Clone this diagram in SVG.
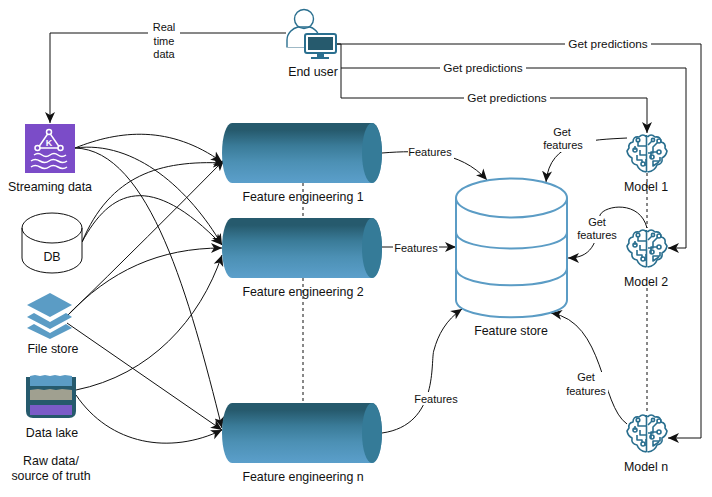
<svg xmlns="http://www.w3.org/2000/svg" xmlns:xlink="http://www.w3.org/1999/xlink" width="712" height="497" viewBox="0 0 712 497">
<style>
text{font-family:"Liberation Sans",Arial,sans-serif;font-size:12.4px;fill:#111;text-anchor:middle}
.s{font-size:11px}
.g{font-size:11.8px}
.c{fill:none;stroke:#111;stroke-width:1}
.a{marker-end:url(#ah)}
.d{fill:none;stroke:#111;stroke-width:1;stroke-dasharray:3 3}
.lb{fill:#fff;stroke:none}
.st{fill:none;stroke:#5b9cc5;stroke-width:2}
.br{fill:none;stroke:#2a6f8f;stroke-width:1.600;stroke-linejoin:round}
</style>
<defs>
<marker id="ah" markerUnits="userSpaceOnUse" markerWidth="14" markerHeight="12" refX="11" refY="5" orient="auto" viewBox="0 0 14 10"><path d="M0 0L11 5L0 10L3 5Z" fill="#111"/></marker>
<linearGradient id="cg" x1="0" y1="0" x2="0" y2="1"><stop offset="0.12" stop-color="#265a6d"/><stop offset="0.38" stop-color="#3a7b98"/><stop offset="0.65" stop-color="#4c90b4"/><stop offset="1" stop-color="#5b9fcb"/></linearGradient>
<symbol id="cyl" viewBox="0 0 160 60" width="160" height="60">
<path d="M10 0H150A10 30 0 0 1 150 60H10A10 30 0 0 1 10 0Z" fill="url(#cg)"/>
<ellipse cx="150" cy="30" rx="10" ry="30" fill="#357b98"/>
</symbol>
<symbol id="brain" viewBox="0 0 40 40" width="40" height="40" overflow="visible">
<g class="br">
<path d="M19.500 2L19.500 39M19.500 4Q16 0 12 4Q6 3 6 9Q1 10 2 15L0 18Q1 23 5 25Q4 31 10 32Q12 38 19.500 39M20.500 4Q24 0 28 4Q34 3 34 9Q39 10 38 15L40 18Q39 23 35 25Q36 31 30 32Q28 38 20.500 39"/>
<path d="M19 13H11V8M8 17V13M19 22H13V17M15 30L15 27H10V22M19 33V26M21 20H26V14L31 9M21 12L25 8M30 19H24V26M32 29L26 33V28H33V24"/>
<circle cx="11" cy="7" r="1.800"/><circle cx="8" cy="17" r="2"/><circle cx="16" cy="31" r="2"/><circle cx="32" cy="8" r="2"/><circle cx="26" cy="7" r="1.600"/><circle cx="25" cy="24" r="2"/><circle cx="32" cy="19" r="2"/>
</g>
</symbol>
</defs>
<rect width="712" height="497" fill="#fff"/>

<g id="connectors">
<path class="c a" d="M286 33H50V123"/>
<path class="c a" d="M336 44H701V438H668"/>
<path class="c a" d="M336 44H341V68H686V248H668"/>
<path class="c a" d="M341 68V98H647V133"/>
<path class="d" d="M303 183V218M303 278V403M647 173V228M647 288V413"/>

<path class="c a" d="M75 148C120 130 170 125 222 162"/>
<path class="c a" d="M75 148C135 140 190 190 222 245"/>
<path class="c a" d="M75 148C150 150 190 300 222 428"/>
<path class="c a" d="M82 242C110 175 160 160 224 163"/>
<path class="c a" d="M82 242C110 190 150 170 222 245"/>
<path class="c a" d="M66 317Q150 235 224 160"/>
<path class="c a" d="M66 317C110 270 160 248 222 248"/>
<path class="c a" d="M67 323L222 430"/>
<path class="c a" d="M76 390C150 375 200 320 222 255"/>
<path class="c a" d="M76 395C110 445 170 455 222 430"/>

<path class="c a" d="M382 153C420 150 460 150 487 180"/>
<path class="c a" d="M382 247H456"/>
<path class="c a" d="M382 433C440 425 430 360 434 350C438 335 446 320 462 309"/>
<path class="c a" d="M627 138C590 140 550 140 546 182"/>
<path class="c a" d="M647 228C640 200 605 205 600 215C598 245 590 258 568 258"/>
<path class="c a" d="M627 424C600 405 605 322 551 313"/>
</g>

<g id="connector-labels">
<rect class="lb" x="148" y="20" width="32" height="42"/>
<text class="s" x="164" y="31">Real</text><text class="s" x="164" y="45">time</text><text class="s" x="164" y="58">data</text>
<rect class="lb" x="565" y="38" width="86" height="13"/><text class="g" x="608" y="48">Get predictions</text>
<rect class="lb" x="440" y="62" width="86" height="13"/><text class="g" x="483" y="72">Get predictions</text>
<rect class="lb" x="464" y="92" width="86" height="13"/><text class="g" x="507" y="102">Get predictions</text>
<rect class="lb" x="408" y="146" width="46" height="13"/><text class="s" x="430" y="156">Features</text>
<rect class="lb" x="393" y="242" width="46" height="13"/><text class="s" x="416" y="252">Features</text>
<rect class="lb" x="414" y="392" width="46" height="13"/><text class="s" x="436" y="403">Features</text>
<rect class="lb" x="552" y="126" width="44" height="26"/><text class="s" x="562" y="136">Get</text><text class="s" x="563" y="149">features</text>
<rect class="lb" x="576" y="216" width="44" height="27"/><text class="s" x="597" y="226">Get</text><text class="s" x="597" y="239">features</text>
<rect class="lb" x="564" y="372" width="44" height="27"/><text class="s" x="586" y="381">Get</text><text class="s" x="586" y="395">features</text>
</g>

<g id="end-user">
<circle cx="304" cy="19" r="9.500" fill="none" stroke="#2a6f8f" stroke-width="1.400"/>
<path d="M287 47.500V40C287 33 293 28 298 27H310C313 28 316 30 318 33.500" fill="none" stroke="#2a6f8f" stroke-width="1.400"/>
<path d="M287 47.500H305" fill="none" stroke="#9fb9c6" stroke-width="1"/>
<rect x="305" y="34" width="31" height="19" rx="2" fill="#fff" stroke="#2a6f8f" stroke-width="2"/>
<rect x="308" y="37" width="25" height="13" fill="#265a6d"/>
<path d="M317 53h7v4h5v2h-18v-2h6z" fill="#2a6f8f"/>
<text x="313" y="76">End user</text>
</g>
<g id="streaming-data">
<rect x="25" y="124" width="50" height="49" fill="#7b4cc8"/>
<g fill="none" stroke="#fff" stroke-width="1.500">
<path d="M49 132L38 148H60Z"/><circle cx="49" cy="132" r="2.500" fill="#7b4cc8"/><circle cx="37.500" cy="148" r="2.500" fill="#7b4cc8"/><circle cx="60.500" cy="148" r="2.500" fill="#7b4cc8"/>
<path d="M34 155q4 -3 8 0t8 0t8 0t8 0M31 161q4 -3 9 0t9 0t9 0t9 0M31 167q4 -3 9 0t9 0t9 0t9 0"/>
</g>
<text x="49" y="146" style="font-size:9px;font-weight:bold;fill:#fff">K</text>
<text x="50" y="191">Streaming data</text>
</g>
<g id="db">
<path d="M22 228A30 15 0 0 1 82 228V258A30 15 0 0 1 22 258Z" fill="#fff" stroke="#111" stroke-width="1"/>
<path d="M22 228A30 15 0 0 0 82 228" fill="none" stroke="#111" stroke-width="1"/>
<text x="52" y="261">DB</text>
</g>
<g id="file-store">
<path d="M50 293L72 305L50 317L27 305Z" fill="#5b9cc5"/>
<path d="M34 313L50 322L66 313L72 317L50 329L27 317Z" fill="#5b9cc5"/>
<path d="M34 324L50 333L66 324L72 328L50 339L27 328Z" fill="#5b9cc5"/>
<text x="53" y="353">File store</text>
</g>
<g id="data-lake">
<path d="M26 377H76V411Q76 418 69 418H33Q26 418 26 411Z" fill="#265a6d"/>
<path d="M30 376L35 375L40 376L45 375L50 376L55 375L60 376L65 375L72 376V386H30Z" fill="#5b9cc5"/>
<path d="M30 390L38 389L44 390L50 389L56 390L62 389L72 390V400H30Z" fill="#a0a090"/>
<rect x="30" y="405" width="42" height="10" fill="#7b5cc8"/>
<text x="52" y="437">Data lake</text>
</g>
<g id="raw-data-note">
<text x="51" y="465">Raw data/</text>
<text x="51" y="480">source of truth</text>
</g>
<g id="feature-engineering-1"><use xlink:href="#cyl" href="#cyl" x="222" y="123"/><text x="303" y="201">Feature engineering 1</text></g>
<g id="feature-engineering-2"><use xlink:href="#cyl" href="#cyl" x="222" y="218"/><text x="303" y="296">Feature engineering 2</text></g>
<g id="feature-engineering-n"><use xlink:href="#cyl" href="#cyl" x="222" y="403"/><text x="303" y="481">Feature engineering n</text></g>
<g id="feature-store">
<path class="st" d="M456 198V300C456 323 567 323 567 300V198"/>
<ellipse class="st" cx="511.500" cy="198" rx="55.500" ry="19.500"/>
<path class="st" d="M456 232C456 254 567 254 567 232M456 268C456 291 567 291 567 268"/>
<text x="511" y="335">Feature store</text>
</g>
<g id="model-1"><use xlink:href="#brain" href="#brain" x="627" y="133"/><text x="646" y="191">Model 1</text></g>
<g id="model-2"><use xlink:href="#brain" href="#brain" x="627" y="228"/><text x="646" y="286">Model 2</text></g>
<g id="model-n"><use xlink:href="#brain" href="#brain" x="627" y="413"/><text x="646" y="471">Model n</text></g>
</svg>
